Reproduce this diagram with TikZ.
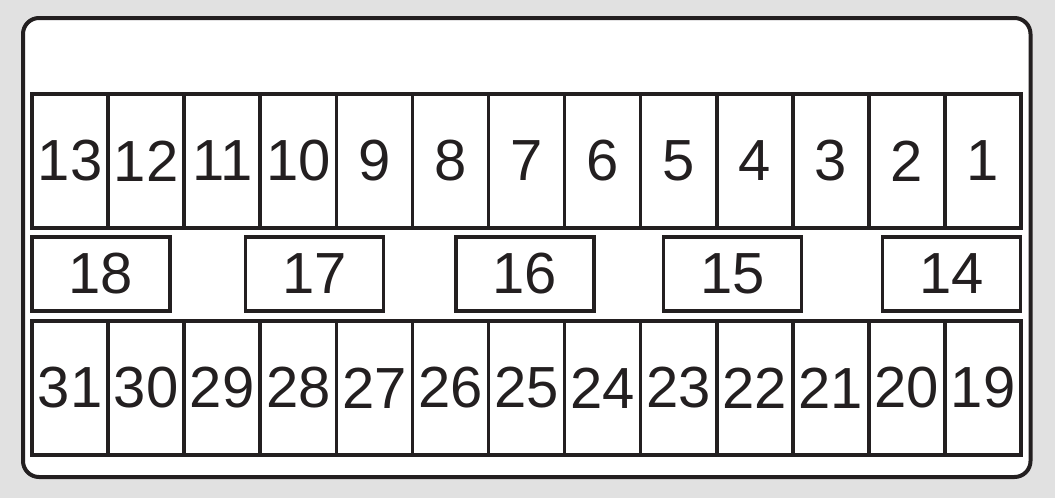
\documentclass[tikz,border=0pt]{standalone}
\usepackage{fontspec}
\setmainfont{Liberation Sans}
\definecolor{bg}{HTML}{E1E1E1}
\definecolor{ink}{HTML}{231F20}
\begin{document}
\begin{tikzpicture}[x=1pt,y=-1pt,
  cell/.style={draw=ink,line width=3.6pt,fill=white,inner sep=0pt,
    minimum width=76.08pt,minimum height=134pt,
    font=\fontsize{58}{60}\selectfont,text=ink},
  fuse/.style={draw=ink,line width=3.6pt,fill=white,inner sep=0pt,
    minimum width=138pt,minimum height=74.5pt,
    font=\fontsize{58}{60}\selectfont,text=ink}]
\fill[bg] (0,0) rectangle (1055,498);
\useasboundingbox (0,0) rectangle (1055,498);
\draw[ink,line width=4pt,fill=white,rounded corners=16pt] (23,18) rectangle (1030.5,477);
\foreach \k in {0,...,12}{
  \pgfmathtruncatemacro{\t}{13-\k}
  \pgfmathtruncatemacro{\b}{31-\k}
  \node[cell] (t\t) at ({32+76.08*(\k+0.5)},161) {\t};
  \node[cell] (b\b) at ({32+76.08*(\k+0.5)},388) {\raisebox{-2pt}{\b}};
}
\node[fuse] (f18) at (101,274) {18};
\node[fuse] (f17) at (314.5,274) {17};
\node[fuse] (f16) at (525,274) {16};
\node[fuse] (f15) at (732.5,274) {15};
\node[fuse] (f14) at (951.5,274) {14};
\end{tikzpicture}
\end{document}
